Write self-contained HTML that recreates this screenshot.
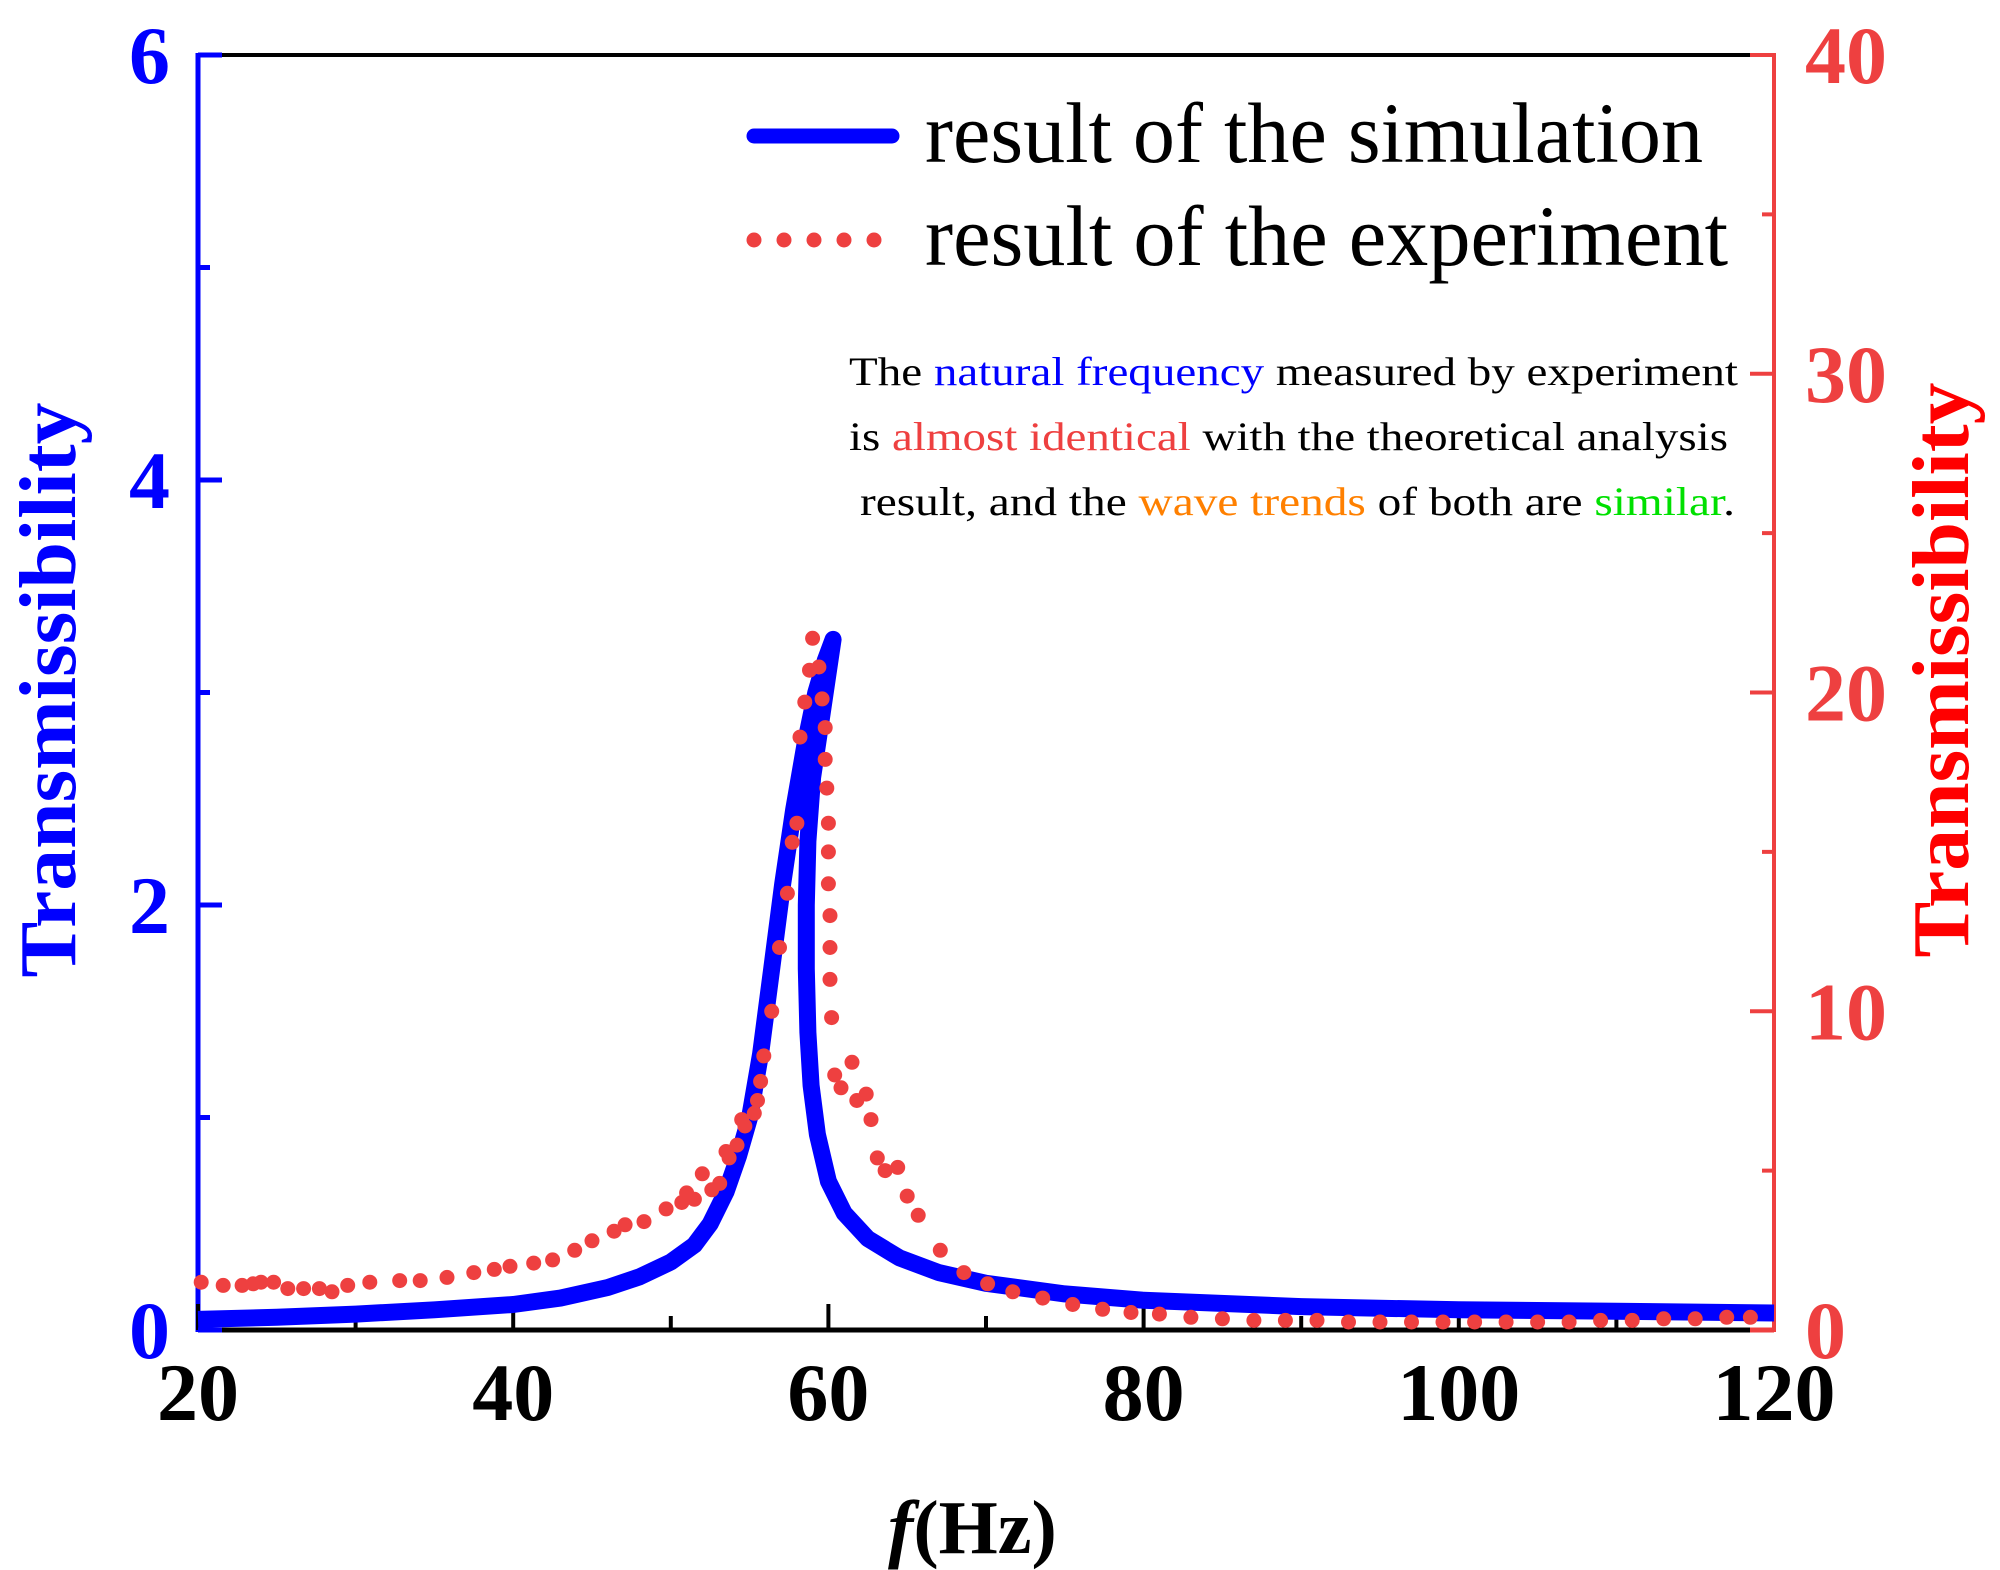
<!DOCTYPE html>
<html><head><meta charset="utf-8"><style>
html,body{margin:0;padding:0;background:#fff;}
svg{display:block;font-family:"Liberation Serif",serif;}
</style></head><body>
<svg id="chart" width="2000" height="1570" viewBox="0 0 2000 1570" xmlns="http://www.w3.org/2000/svg">
<g id="axes"></g>
<g id="series"></g>
<g id="legend">
  <line x1="754" y1="136" x2="892" y2="136" stroke="#0000ff" stroke-width="15" stroke-linecap="round"/>
  <text x="925" y="162" font-size="86" textLength="778" lengthAdjust="spacingAndGlyphs">result of the simulation</text>
  <g fill="#ee4040">
    <circle cx="754" cy="240" r="7.5"/><circle cx="784" cy="240" r="7.5"/><circle cx="814" cy="240" r="7.5"/><circle cx="844" cy="240" r="7.5"/><circle cx="874" cy="240" r="7.5"/>
  </g>
  <text x="925" y="265" font-size="86" textLength="803" lengthAdjust="spacingAndGlyphs">result of the experiment</text>
</g>
<g font-size="40">
  <text x="849" y="385" textLength="889" lengthAdjust="spacingAndGlyphs">The <tspan fill="#0000ff">natural frequency</tspan> measured by experiment</text>
  <text x="849" y="450" textLength="879" lengthAdjust="spacingAndGlyphs">is <tspan fill="#ee4040">almost identical</tspan> with the theoretical analysis</text>
  <text x="860" y="515" textLength="875" lengthAdjust="spacingAndGlyphs">result, and the <tspan fill="#ff8000">wave trends</tspan> of both are <tspan fill="#00e000">similar</tspan>.</text>
</g>
<text transform="translate(75,690) rotate(-90)" text-anchor="middle" font-size="80" font-weight="bold" fill="#0000ff" textLength="575" lengthAdjust="spacingAndGlyphs">Transmissibility</text>
<text transform="translate(1968,670) rotate(-90)" text-anchor="middle" font-size="80" font-weight="bold" fill="#ff0000" textLength="575" lengthAdjust="spacingAndGlyphs">Transmissibility</text>
<text x="888" y="1553" font-size="76" font-weight="bold"><tspan font-style="italic">f</tspan>(Hz)</text>
</svg>
<script>
const xTicks = [20, 40, 60, 80, 100, 120];
const xMinor = [30, 50, 70, 90, 110];
const leftTicks = [0, 2, 4, 6];
const leftMinor = [1, 3, 5];
const rightTicks = [0, 10, 20, 30, 40];
const rightMinor = [5, 15, 25, 35];
const simF = [20, 25, 30, 35, 40, 43, 46, 48, 50, 51.5, 52.5, 53.5, 54.3, 55, 55.7, 56.4, 57.1, 57.8, 58.5, 59.2, 59.8, 60.3, 59.6, 59.0, 58.7, 58.6, 58.6, 58.7, 58.9, 59.3, 60, 61, 62.5, 64.5, 67, 70, 75, 80, 90, 100, 110, 120];
const simT = [0.05, 0.06, 0.075, 0.095, 0.12, 0.15, 0.2, 0.25, 0.32, 0.4, 0.5, 0.65, 0.82, 1.0, 1.3, 1.7, 2.1, 2.45, 2.75, 3.0, 3.15, 3.25, 2.9, 2.6, 2.3, 2.0, 1.7, 1.4, 1.15, 0.92, 0.7, 0.55, 0.43, 0.34, 0.27, 0.22, 0.17, 0.14, 0.11, 0.095, 0.088, 0.08];
const expF = [20.2,21.6,22.8,23.5,24,24.8,25.7,26.7,27.7,28.5,29.5,30.9,32.8,34.1,35.8,37.5,38.8,39.8,41.3,42.5,43.9,45,46.4,47.1,48.3,49.7,50.7,51.5,52.6,53.1,53.7,54.2,54.7,55.3,55.7,55.9,56.4,56.9,57.4,57.7,58,58.2,58.5,58.8,59,59.4,59.6,59.8,59.8,59.9,60,60,60,60.1,60.1,60.1,60.2,60.4,60.8,61.5,61.8,62.4,62.7,63.1,63.6,64.4,65,65.7,67.1,68.6,70.1,71.7,73.6,75.5,77.4,79.2,81,83,85,87,89,91,93,95,97,99,101,103,105,107,109,111,113,115,117,118.5,53.5,54.5,55.5,52,51];
const expT = [1.5,1.4,1.4,1.45,1.5,1.5,1.3,1.3,1.3,1.2,1.4,1.5,1.55,1.55,1.65,1.8,1.9,2,2.1,2.2,2.5,2.8,3.1,3.3,3.4,3.8,4,4.1,4.4,4.6,5.4,5.8,6.4,6.8,7.8,8.6,10,12,13.7,15.3,15.9,18.6,19.7,20.7,21.7,20.8,19.8,18.9,17.9,17,15.9,15,14,13,12,11,9.8,8,7.6,8.4,7.2,7.4,6.6,5.4,5,5.1,4.2,3.6,2.5,1.8,1.45,1.2,1,0.8,0.65,0.55,0.5,0.4,0.35,0.3,0.3,0.3,0.25,0.25,0.25,0.25,0.25,0.25,0.25,0.25,0.3,0.3,0.35,0.35,0.4,0.4,5.6,6.6,7.2,4.9,4.3];

const NS = 'http://www.w3.org/2000/svg';
const X0 = 198, X1 = 1774, YB = 1330, YT = 55;
function xs(f) { return X0 + (f - 20) / 100 * (X1 - X0); }
function yl(v) { return YB - v / 6 * (YB - YT); }
function yr(v) { return YB - v / 40 * (YB - YT); }
function mk(tag, attrs, parent) {
  const e = document.createElementNS(NS, tag);
  for (const k in attrs) e.setAttribute(k, attrs[k]);
  parent.appendChild(e);
  return e;
}
const axes = document.getElementById('axes');
const series = document.getElementById('series');

let el = mk('line', {x1: X0, y1: YT, x2: X1, y2: YT, stroke: '#000', 'stroke-width': 4}, axes);


el = mk('line', {x1: 222, y1: YB, x2: 1750, y2: YB, stroke: '#000', 'stroke-width': 5}, axes);


el = mk('line', {x1: 1750, y1: YB, x2: X1, y2: YB, stroke: '#ee4040', 'stroke-width': 5}, axes);


el = mk('line', {x1: X0, y1: YT - 2, x2: X0, y2: YB + 2, stroke: '#0000ff', 'stroke-width': 5}, axes);


el = mk('line', {x1: X1, y1: YT - 2, x2: X1, y2: YB + 2, stroke: '#ee4040', 'stroke-width': 4}, axes);



xTicks.forEach(t => {
  const x = xs(t);
  if (t < 120) {
    const tk = mk('line', {x1: x, y1: YB, x2: x, y2: YB - 26, stroke: '#000', 'stroke-width': 4}, axes);
    
    
  }
  const lb = mk('text', {x: x, y: 1420, 'text-anchor': 'middle', 'font-size': 82, 'font-weight': 'bold', fill: '#000'}, axes);
  lb.textContent = t;
  
  
});
xMinor.forEach(t => {
  const x = xs(t);
  const tk = mk('line', {x1: x, y1: YB, x2: x, y2: YB - 14, stroke: '#000', 'stroke-width': 4}, axes);
  
  
});
leftTicks.forEach(t => {
  const y = yl(t);
  const tk = mk('line', {x1: X0, y1: y, x2: X0 + 24, y2: y, stroke: '#0000ff', 'stroke-width': 5}, axes);
  
  
  const lb = mk('text', {x: 170, y: y + 28, 'text-anchor': 'end', 'font-size': 82, 'font-weight': 'bold', fill: '#0000ff'}, axes);
  lb.textContent = t;
  
  
});
leftMinor.forEach(t => {
  const y = yl(t);
  const tk = mk('line', {x1: X0, y1: y, x2: X0 + 12, y2: y, stroke: '#0000ff', 'stroke-width': 5}, axes);
  
  
});
rightTicks.forEach(t => {
  const y = yr(t);
  const tk = mk('line', {x1: X1, y1: y, x2: X1 - 24, y2: y, stroke: '#ee4040', 'stroke-width': 4}, axes);
  
  
  const lb = mk('text', {x: 1805, y: y + 28, 'text-anchor': 'start', 'font-size': 82, 'font-weight': 'bold', fill: '#ee4040'}, axes);
  lb.textContent = t;
  
  
});
rightMinor.forEach(t => {
  const y = yr(t);
  const tk = mk('line', {x1: X1, y1: y, x2: X1 - 12, y2: y, stroke: '#ee4040', 'stroke-width': 4}, axes);
  
  
});

let d = '';
simF.forEach((f, i) => { d += (i ? ' L' : 'M') + xs(f).toFixed(1) + ' ' + yl(simT[i]).toFixed(1); });
const sim = mk('path', {d: d, fill: 'none', stroke: '#0000ff', 'stroke-width': 17, 'stroke-linejoin': 'round', 'stroke-linecap': 'butt'}, series);



expF.forEach((f, i) => {
  const c = mk('circle', {cx: xs(f).toFixed(1), cy: yr(expT[i]).toFixed(1), r: 7.5, fill: '#ee4040'}, series);
  
  
});
</script>
</body></html>
